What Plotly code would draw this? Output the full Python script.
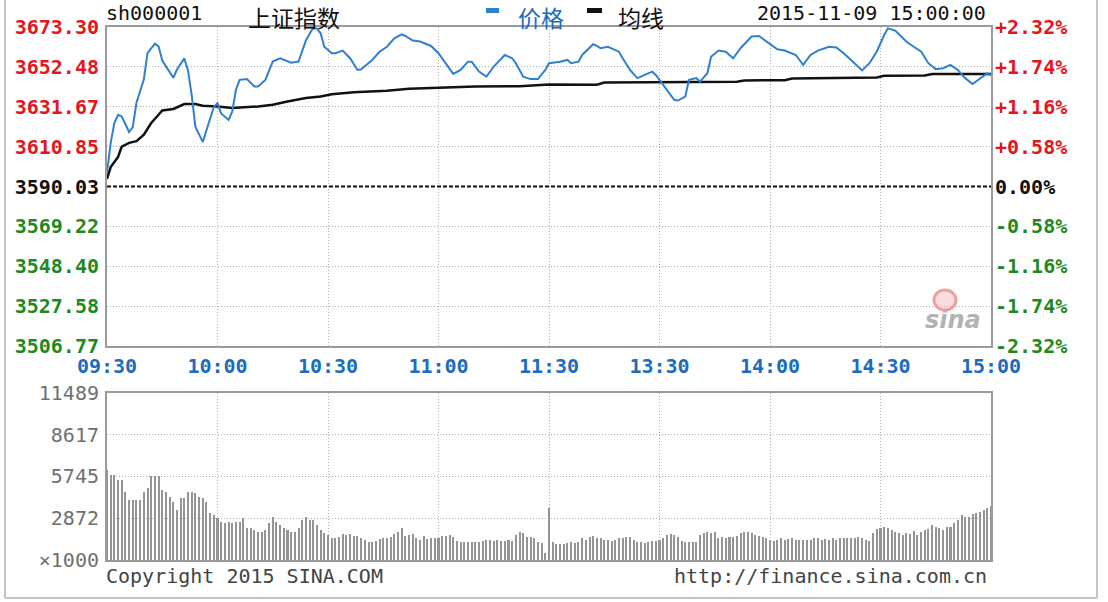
import plotly.graph_objects as go

# ---------------- data ----------------
PREV_CLOSE = 3590.03
time_ticks = [0, 30, 60, 90, 120, 150, 180, 210, 240]
time_labels = ["09:30", "10:00", "10:30", "11:00", "11:30", "13:30", "14:00", "14:30", "15:00"]
price_ticks = [3506.77, 3527.58, 3548.40, 3569.22, 3590.03, 3610.85, 3631.67, 3652.48, 3673.30]
pct_labels = ["-2.32%", "-1.74%", "-1.16%", "-0.58%", "0.00%", "+0.58%", "+1.16%", "+1.74%", "+2.32%"]
volume_ticks = [0, 2872, 5745, 8617, 11489]
volume_labels = ["×1000", "2872", "5745", "8617", "11489"]

price_minutes = [0, 1, 2, 3, 4, 6, 7, 8, 10, 11, 13, 14, 15, 18, 19, 21, 22, 23, 24, 26,
                 27, 29, 30, 31, 33, 34, 35, 36, 38, 40, 41, 43, 45, 47, 50, 52, 54, 56, 57, 58,
                 59, 61, 62, 64, 66, 68, 69, 72, 74, 76, 78, 80, 81, 83, 85, 88, 90, 92, 94, 96,
                 98, 99, 101, 103, 105, 108, 110, 111, 113, 115, 117, 119, 120, 123, 125, 126, 128, 129, 132, 133,
                 134, 136, 139, 140, 142, 144, 146, 148, 149, 151, 153, 154, 155, 157, 158, 160, 161, 163, 164, 166,
                 168, 170, 172, 175, 177, 179, 182, 184, 187, 189, 191, 193, 196, 198, 200, 202, 205, 207, 209, 211,
                 212, 214, 217, 219, 221, 223, 225, 227, 229, 231, 233, 235, 237, 239, 240]
price_values = [3597.0, 3612.8, 3623.2, 3627.5, 3626.6, 3618.5, 3621.1, 3633.8, 3645.9, 3659.7,
                3664.6, 3663.2, 3655.8, 3646.8, 3651.1, 3656.9, 3650.5, 3637.6, 3621.1, 3613.3,
                3619.4, 3631.5, 3633.6, 3628.2, 3624.8, 3629.1, 3640.5, 3645.7, 3646.1, 3642.2,
                3642.2, 3645.7, 3655.3, 3657.0, 3654.7, 3655.3, 3666.3, 3673.0, 3672.5, 3670.0,
                3663.0, 3659.6, 3659.6, 3661.0, 3657.0, 3650.9, 3651.2, 3656.1, 3660.4, 3663.0,
                3667.4, 3669.5, 3668.6, 3666.2, 3665.7, 3663.4, 3659.6, 3654.4, 3648.8, 3650.9,
                3655.2, 3655.2, 3650.0, 3647.4, 3652.6, 3658.7, 3657.0, 3654.4, 3647.4, 3646.1,
                3646.1, 3650.9, 3654.4, 3655.2, 3656.1, 3654.4, 3655.2, 3658.7, 3664.3, 3663.4,
                3662.2, 3663.0, 3660.4, 3657.0, 3650.9, 3646.6, 3648.3, 3650.0, 3648.3, 3643.1,
                3637.9, 3635.3, 3634.9, 3637.0, 3645.7, 3646.6, 3644.8, 3649.2, 3657.8, 3661.0,
                3660.4, 3657.0, 3662.2, 3668.3, 3668.6, 3665.7, 3661.7, 3661.0, 3658.7, 3653.5,
                3658.7, 3661.0, 3663.0, 3662.6, 3659.6, 3656.1, 3650.6, 3654.4, 3660.5, 3669.1,
                3672.6, 3671.4, 3665.7, 3663.0, 3660.5, 3654.4, 3651.3, 3651.8, 3653.5, 3650.9,
                3646.6, 3643.5, 3646.6, 3649.2, 3648.0]

avg_minutes = [0, 1, 3, 4, 6, 8, 10, 12, 14, 15, 18, 20, 21, 24, 26, 30, 34, 41, 45, 49,
               54, 58, 61, 67, 76, 82, 90, 100, 112, 120, 133, 135, 171, 173, 184, 186, 209, 211, 222, 224,
               240]
avg_values = [3594.0, 3600.2, 3605.5, 3610.9, 3612.8, 3613.7, 3617.1, 3623.2, 3627.5, 3629.7,
              3630.5, 3632.2, 3633.1, 3633.1, 3632.2, 3631.8, 3631.0, 3631.8, 3632.7, 3634.4,
              3636.2, 3637.0, 3638.2, 3639.2, 3640.0, 3641.0, 3641.7, 3642.2, 3642.4, 3643.3,
              3643.2, 3644.3, 3644.7, 3645.4, 3645.5, 3646.4, 3646.9, 3647.8, 3648.0, 3648.8,
              3648.8]

volume = [6205, 5814, 5860, 5515, 5515, 4711, 4136, 4136, 4136, 4136,
          4665, 4941, 5745, 5745, 5745, 4826, 4711, 4366, 4021, 3447,
          4251, 4251, 4665, 4711, 4596, 4366, 4251, 4021, 3217, 3102,
          2872, 2643, 2528, 2643, 2528, 2643, 2643, 2872, 2229, 2183,
          2068, 1953, 1953, 2068, 2528, 2987, 2643, 2413, 2183, 2068,
          1953, 1953, 2183, 2758, 2987, 2758, 2758, 2413, 2068, 1838,
          1724, 1494, 1494, 1609, 1792, 1724, 1792, 1677, 1677, 1494,
          1379, 1218, 1218, 1333, 1448, 1494, 1540, 1609, 1769, 1953,
          2229, 1655, 1724, 1792, 1540, 1379, 1655, 1448, 1494, 1494,
          1494, 1655, 1655, 1724, 1609, 1310, 1218, 1218, 1218, 1264,
          1264, 1264, 1310, 1379, 1379, 1310, 1379, 1333, 1310, 1379,
          1310, 1724, 1907, 1838, 1609, 1563, 1494, 1264, 1149, 460,
          3562, 1218, 1080, 1080, 1080, 1149, 1264, 1149, 1264, 1494,
          1379, 1609, 1655, 1540, 1494, 1379, 1379, 1310, 1379, 1494,
          1494, 1609, 1609, 1379, 1264, 1218, 1149, 1264, 1310, 1310,
          1379, 1494, 1724, 1792, 1724, 1609, 1310, 1218, 1218, 1218,
          1218, 1724, 1838, 1907, 1838, 1907, 1494, 1609, 1540, 1609,
          1609, 1678, 1838, 1907, 1907, 1838, 1724, 1678, 1609, 1540,
          1379, 1310, 1379, 1494, 1379, 1448, 1494, 1379, 1379, 1379,
          1379, 1379, 1494, 1494, 1379, 1425, 1379, 1494, 1379, 1494,
          1540, 1494, 1540, 1494, 1609, 1540, 1379, 1310, 1838, 2137,
          2183, 2298, 2229, 2068, 1953, 1838, 1724, 1838, 1792, 1999,
          1724, 1907, 2068, 2137, 2413, 2298, 2229, 2068, 2298, 2298,
          2528, 2758, 3102, 2987, 2987, 3148, 3217, 3332, 3450, 3600,
          3700]
volume_minutes = list(range(len(volume)))

# ---------------- styling ----------------
MONO = "DejaVu Sans Mono"
CJK = "Noto Sans CJK SC"
RED = "#e3161d"
GREEN = "#1e8a1e"
BLUE_LINE = "#2f80d0"
BLUE_TXT = "#1b6cc0"
GRID = "#b0b0b0"
FRAME = "#9a9a9a"

W, H = 1108, 602
L, R, T, B = 107, 991, 27, 560   # plot area in pixels
PW, PH = R - L, B - T


def px(xp):
    return (xp - L) / PW


def py(yp):
    return (B - yp) / PH


price_dom = [py(346), 1.0]
vol_dom = [0.0, py(393)]


def colored(txt, col):
    return f'<span style="color:{col}">{txt}</span>'


left_text = []
for v in price_ticks:
    s = f"{v:.2f}"
    col = RED if v > PREV_CLOSE + 0.01 else (GREEN if v < PREV_CLOSE - 0.01 else "#111111")
    left_text.append(colored(s, col))

pct_ticks = [(v / PREV_CLOSE - 1) * 100 for v in price_ticks]
right_text = []
for t, lab in zip(pct_ticks, pct_labels):
    col = RED if t > 0.01 else (GREEN if t < -0.01 else "#111111")
    right_text.append(colored(lab, col))

fig = go.Figure()

fig.add_trace(go.Scatter(x=avg_minutes, y=avg_values, mode="lines",
                         line=dict(color="#111111", width=2.5), name="均线",
                         xaxis="x", yaxis="y", showlegend=False, hoverinfo="skip"))
fig.add_trace(go.Scatter(x=price_minutes, y=price_values, mode="lines",
                         line=dict(color=BLUE_LINE, width=2), name="价格",
                         xaxis="x", yaxis="y", showlegend=False))
fig.add_trace(go.Scatter(x=price_minutes, y=[(p / PREV_CLOSE - 1) * 100 for p in price_values],
                         mode="lines", line=dict(width=0), opacity=0, xaxis="x", yaxis="y2",
                         showlegend=False, hoverinfo="skip"))
fig.add_trace(go.Bar(x=volume_minutes, y=volume, width=0.55,
                     marker=dict(color="#949494", line=dict(width=0)),
                     xaxis="x2", yaxis="y3", showlegend=False))

grid_common = dict(showgrid=True, gridcolor=GRID, griddash="1px,2px", gridwidth=1,
                   showline=True, mirror=True, linecolor=FRAME, linewidth=2,
                   zeroline=False, ticks="")

fig.update_layout(
    width=W, height=H,
    margin=dict(l=L, r=W - R, t=T, b=H - B),
    paper_bgcolor="white", plot_bgcolor="white",
    bargap=0,
    xaxis=dict(domain=[0, 1], anchor="y", range=[0, 240], tickmode="array",
               tickvals=time_ticks, ticktext=time_labels,
               tickfont=dict(family=MONO, size=20, color=BLUE_TXT, weight="bold"),
               ticklabelstandoff=1, **grid_common),
    yaxis=dict(domain=price_dom, anchor="x", range=[price_ticks[0], price_ticks[-1]],
               tickmode="array", tickvals=price_ticks, ticktext=left_text,
               tickfont=dict(family=MONO, size=20, weight="bold"),
               ticklabelstandoff=2, **grid_common),
    yaxis2=dict(overlaying="y", side="right", anchor="x",
                range=[pct_ticks[0], pct_ticks[-1]], tickmode="array",
                tickvals=pct_ticks, ticktext=right_text,
                tickfont=dict(family=MONO, size=20, weight="bold"),
                showgrid=False, zeroline=False, ticks="", showline=False,
                ticklabelstandoff=3),
    xaxis2=dict(domain=[0, 1], anchor="y3", range=[0, 240], tickmode="array",
                tickvals=time_ticks, showticklabels=False, **grid_common),
    yaxis3=dict(domain=vol_dom, anchor="x2", range=[0, volume_ticks[-1]],
                tickmode="array", tickvals=volume_ticks, ticktext=volume_labels,
                tickfont=dict(family=MONO, size=20, color="#6f6f6f"),
                ticklabelstandoff=2, **grid_common),
)

# previous-close reference line
fig.add_shape(type="line", xref="x", yref="y", x0=0, x1=240, y0=PREV_CLOSE, y1=PREV_CLOSE,
              line=dict(color="#111111", width=2, dash="4px,2px"), layer="above")

# outer frame
for (x0, y0, x1, y1) in [(5, -10, 5, 598), (5, 598, 1097, 598), (1097, -10, 1097, 598)]:
    fig.add_shape(type="line", xref="paper", yref="paper",
                  x0=px(x0), x1=px(x1), y0=py(y0), y1=py(y1),
                  line=dict(color="#c4c4c4", width=2))

# header
fig.add_annotation(text="sh000001", xref="paper", yref="paper", x=px(104), y=py(13),
                   xanchor="left", yanchor="middle", showarrow=False,
                   font=dict(family=MONO, size=20, color="#111111"))
fig.add_annotation(text="上证指数", xref="paper", yref="paper", x=px(246), y=py(17),
                   xanchor="left", yanchor="middle", showarrow=False,
                   font=dict(family=CJK, size=23, color="#111111"))
# legend marks
fig.add_shape(type="rect", xref="paper", yref="paper", x0=px(486), x1=px(499),
              y0=py(13), y1=py(8), fillcolor=BLUE_LINE, line=dict(width=0))
fig.add_annotation(text="价格", xref="paper", yref="paper", x=px(516), y=py(17),
                   xanchor="left", yanchor="middle", showarrow=False,
                   font=dict(family=CJK, size=23, color=BLUE_TXT))
fig.add_shape(type="rect", xref="paper", yref="paper", x0=px(587), x1=px(602),
              y0=py(13), y1=py(8), fillcolor="#111111", line=dict(width=0))
fig.add_annotation(text="均线", xref="paper", yref="paper", x=px(616), y=py(17),
                   xanchor="left", yanchor="middle", showarrow=False,
                   font=dict(family=CJK, size=23, color="#111111"))
fig.add_annotation(text="2015-11-09 15:00:00", xref="paper", yref="paper", x=px(988), y=py(13),
                   xanchor="right", yanchor="middle", showarrow=False,
                   font=dict(family=MONO, size=20, color="#111111"))

# footer
fig.add_annotation(text="Copyright 2015 SINA.COM", xref="paper", yref="paper", x=px(104), y=py(576),
                   xanchor="left", yanchor="middle", showarrow=False,
                   font=dict(family=MONO, size=20, color="#444444"))
fig.add_annotation(text="http://finance.sina.com.cn", xref="paper", yref="paper", x=px(989), y=py(576),
                   xanchor="right", yanchor="middle", showarrow=False,
                   font=dict(family=MONO, size=20, color="#444444"))

# sina watermark
fig.add_shape(type="circle", xref="paper", yref="paper", x0=px(934), x1=px(956),
              y0=py(310), y1=py(290), line=dict(color="#f0a0a0", width=3),
              fillcolor="rgba(240,160,160,0.35)")
fig.add_annotation(text="<i><b>sina</b></i>", xref="paper", yref="paper", x=px(953), y=py(320),
                   xanchor="center", yanchor="middle", showarrow=False,
                   font=dict(family="DejaVu Sans", size=24, color="#b3b3b3"))

# the page's default 8px body margin would shift the whole chart; remove it
fig.write_html("out.html", config={"displayModeBar": False},
               post_script="document.body.style.margin='0px';")
